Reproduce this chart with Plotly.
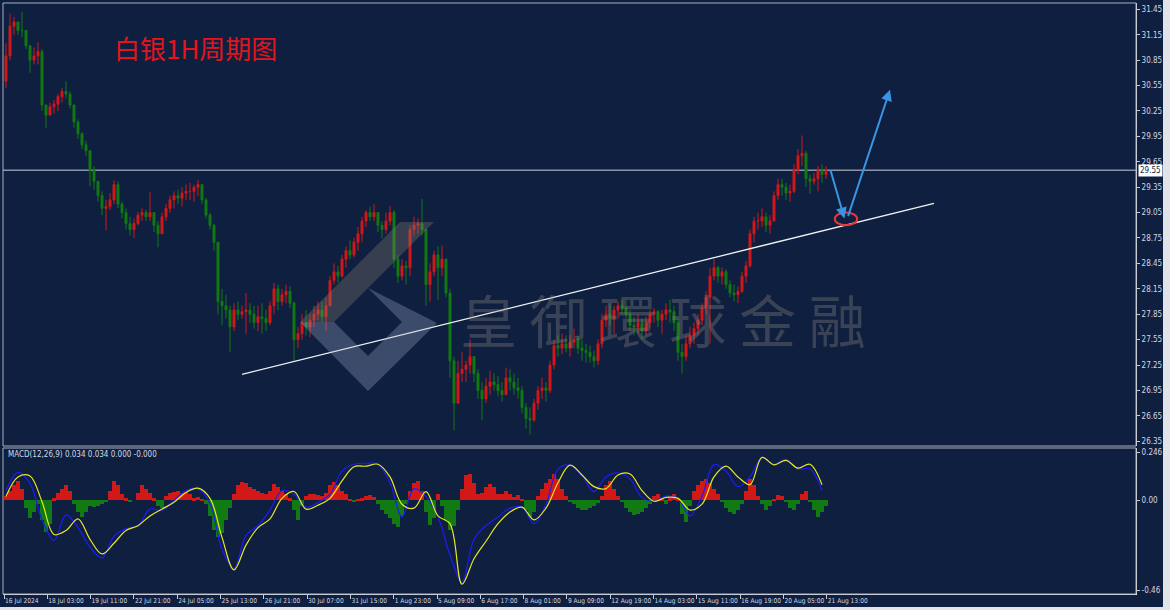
import plotly.graph_objects as go

# ---------------- data ----------------
FIRST_OPEN = 30.60
HIGH = [
    31.05, 31.40, 31.36, 31.30, 31.42, 31.18, 31.00, 31.00, 31.06, 30.98,
    30.30, 30.35, 30.38, 30.45, 30.52, 30.60, 30.48, 30.32, 30.15, 30.00,
    29.90, 29.75, 29.60, 29.40, 29.30, 29.20, 29.28, 29.43, 29.42, 29.18,
    29.10, 29.00, 28.98, 29.06, 29.10, 29.08, 29.29, 29.05, 28.95, 29.05,
    29.15, 29.25, 29.30, 29.32, 29.35, 29.38, 29.40, 29.38, 29.44, 29.38,
    29.22, 29.05, 28.92, 28.70, 28.15, 28.08, 27.95, 27.98, 28.00, 27.95,
    28.10, 27.98, 27.95, 27.95, 27.98, 27.90, 28.00, 28.22, 28.20, 28.15,
    28.20, 28.18, 28.00, 27.70, 27.85, 27.90, 27.85, 27.95, 28.00, 28.00,
    28.05, 28.30, 28.45, 28.42, 28.55, 28.65, 28.72, 28.75, 28.88, 29.00,
    29.08, 29.12, 29.15, 29.05, 28.95, 29.05, 29.13, 29.08, 28.55, 28.50,
    28.48, 28.90, 29.00, 28.98, 29.21, 28.85, 28.45, 28.60, 28.65, 28.66,
    28.50, 28.15, 27.35, 27.30, 27.40, 27.30, 27.55, 27.35, 27.20, 27.05,
    27.10, 27.18, 27.15, 27.12, 27.05, 27.22, 27.20, 27.15, 27.10, 27.00,
    26.80, 26.75, 26.85, 27.00, 27.10, 27.05, 27.30, 27.55, 27.60, 27.62,
    27.60, 27.60, 27.68, 27.60, 27.55, 27.50, 27.48, 27.42, 27.55, 27.85,
    27.95, 27.98, 27.95, 28.00, 28.02, 28.02, 27.90, 27.82, 27.85, 27.80,
    27.82, 27.90, 27.92, 27.90, 27.90, 27.98, 28.02, 27.95, 27.80, 27.50,
    27.60, 27.70, 27.75, 27.85, 27.98, 28.12, 28.40, 28.50, 28.42, 28.40,
    28.38, 28.25, 28.20, 28.18, 28.35, 28.48, 28.85, 29.00, 29.05, 29.10,
    29.05, 29.02, 29.30, 29.45, 29.45, 29.40, 29.38, 29.62, 29.80, 29.96,
    29.78, 29.50, 29.52, 29.60, 29.62, 29.60,
]
LOW = [
    30.52, 30.85, 31.15, 31.15, 31.12, 30.98, 30.70, 30.80, 30.80, 30.25,
    30.05, 30.20, 30.22, 30.25, 30.35, 30.40, 30.28, 30.05, 29.92, 29.80,
    29.72, 29.36, 29.32, 29.18, 29.02, 28.84, 29.08, 29.15, 29.10, 28.98,
    28.85, 28.78, 28.75, 28.90, 28.95, 28.95, 28.95, 28.82, 28.64, 28.82,
    28.95, 29.05, 29.10, 29.15, 29.12, 29.20, 29.20, 29.18, 29.25, 29.15,
    28.98, 28.85, 28.60, 27.85, 27.72, 27.80, 27.40, 27.65, 27.78, 27.80,
    27.62, 27.75, 27.68, 27.65, 27.62, 27.65, 27.72, 27.85, 27.90, 27.95,
    27.98, 27.92, 27.30, 27.45, 27.55, 27.60, 27.58, 27.70, 27.78, 27.75,
    27.65, 27.95, 28.20, 28.22, 28.28, 28.40, 28.50, 28.52, 28.60, 28.70,
    28.88, 28.95, 28.95, 28.82, 28.75, 28.80, 28.90, 28.40, 28.22, 28.25,
    28.20, 28.30, 28.78, 28.80, 28.78, 27.95, 28.00, 28.30, 28.02, 28.30,
    28.05, 27.10, 26.48, 26.85, 27.05, 27.05, 27.15, 27.05, 26.85, 26.60,
    26.80, 26.90, 26.95, 26.88, 26.82, 26.90, 26.95, 26.90, 26.85, 26.68,
    26.50, 26.43, 26.58, 26.72, 26.85, 26.82, 26.92, 27.20, 27.35, 27.38,
    27.40, 27.35, 27.45, 27.38, 27.30, 27.28, 27.28, 27.22, 27.25, 27.45,
    27.70, 27.72, 27.62, 27.80, 27.85, 27.80, 27.65, 27.60, 27.62, 27.55,
    27.60, 27.68, 27.75, 27.70, 27.62, 27.78, 27.75, 27.65, 27.30, 27.15,
    27.30, 27.45, 27.50, 27.60, 27.72, 27.85, 27.50, 28.25, 28.22, 28.20,
    28.15, 28.05, 28.00, 27.98, 28.10, 28.22, 28.40, 28.70, 28.85, 28.88,
    28.82, 28.80, 28.95, 29.20, 29.25, 29.20, 29.18, 29.28, 29.50, 29.60,
    29.35, 29.27, 29.38, 29.30, 29.40, 29.45,
]
CLOSE = [
    30.90, 31.25, 31.30, 31.20, 31.20, 31.02, 30.85, 30.90, 30.95, 30.32,
    30.20, 30.30, 30.33, 30.42, 30.48, 30.45, 30.32, 30.12, 29.98, 29.85,
    29.78, 29.55, 29.42, 29.25, 29.10, 29.12, 29.20, 29.38, 29.15, 29.05,
    28.92, 28.85, 28.92, 29.02, 29.05, 29.00, 29.05, 28.90, 28.80, 29.00,
    29.10, 29.20, 29.25, 29.22, 29.28, 29.30, 29.30, 29.35, 29.38, 29.20,
    29.02, 28.90, 28.70, 28.00, 27.95, 27.90, 27.70, 27.90, 27.85, 27.88,
    27.90, 27.85, 27.75, 27.82, 27.80, 27.75, 27.95, 28.15, 28.00, 28.08,
    28.12, 27.98, 27.55, 27.62, 27.75, 27.70, 27.78, 27.85, 27.90, 27.82,
    27.95, 28.25, 28.35, 28.30, 28.50, 28.60, 28.55, 28.70, 28.80, 28.95,
    29.05, 29.00, 29.05, 28.90, 28.85, 28.95, 29.05, 28.50, 28.30, 28.42,
    28.40, 28.85, 28.90, 28.92, 28.85, 28.20, 28.35, 28.55, 28.40, 28.50,
    28.10, 27.30, 26.80, 27.15, 27.20, 27.25, 27.35, 27.15, 26.95, 26.85,
    27.00, 27.05, 27.02, 26.95, 26.90, 27.10, 27.05, 26.98, 26.95, 26.75,
    26.62, 26.60, 26.80, 26.95, 26.98, 26.95, 27.25, 27.48, 27.45, 27.50,
    27.45, 27.52, 27.55, 27.45, 27.42, 27.40, 27.35, 27.30, 27.50, 27.78,
    27.85, 27.80, 27.90, 27.95, 27.92, 27.85, 27.72, 27.70, 27.75, 27.65,
    27.75, 27.85, 27.88, 27.78, 27.85, 27.90, 27.88, 27.75, 27.40, 27.35,
    27.50, 27.60, 27.68, 27.78, 27.92, 28.05, 28.30, 28.40, 28.30, 28.35,
    28.20, 28.10, 28.08, 28.12, 28.30, 28.42, 28.80, 28.95, 28.95, 29.00,
    28.90, 28.95, 29.25, 29.38, 29.35, 29.28, 29.30, 29.55, 29.72, 29.75,
    29.45, 29.42, 29.45, 29.55, 29.50, 29.55,
]

# MACD(12,26,9): main line (blue) and signal (yellow), sampled every 3 bars
MACD_STEP = 3
MACD_MAIN = [
    0.05, 0.143, 0.087, -0.10, -0.205, -0.075, -0.14, -0.24, -0.295, -0.185,
    -0.145, -0.13, -0.045, -0.052, 0.0, 0.05, 0.06, -0.015, -0.25, -0.35,
    -0.18, -0.13, -0.05, 0.05, 0.03, -0.035, -0.01, 0.03, 0.15, 0.185,
    0.19, 0.185, 0.09, -0.085, 0.06, 0.02, -0.085, -0.28, -0.42, -0.20,
    -0.13, -0.085, -0.04, -0.035, -0.12, -0.02, 0.16, 0.18, 0.125, 0.045,
    0.12, 0.14, 0.11, 0.015, -0.005, 0.022, 0.01, -0.08, 0.02, 0.183,
    0.15, 0.07, 0.12, 0.22, 0.185, 0.21, 0.16, 0.16, 0.05,
]
MACD_SIGNAL = [
    0.02, 0.12, 0.125, -0.007, -0.175, -0.155, -0.095, -0.20, -0.275, -0.22,
    -0.155, -0.13, -0.08, -0.045, -0.01, 0.04, 0.062, 0.01, -0.19, -0.357,
    -0.23, -0.14, -0.095, 0.01, 0.045, -0.045, -0.025, 0.01, 0.10, 0.172,
    0.175, 0.185, 0.12, -0.02, -0.04, 0.045, -0.08, -0.12, -0.43, -0.30,
    -0.21, -0.12, -0.06, -0.035, -0.10, -0.04, 0.09, 0.18, 0.13, 0.07,
    0.06, 0.13, 0.135, 0.05, -0.005, 0.015, 0.01, -0.05, -0.02, 0.12,
    0.175, 0.12, 0.08, 0.22, 0.182, 0.205, 0.165, 0.185, 0.08,
]
MACD_HIST = [
    0.02, 0.05, 0.08, 0.10, 0.06, -0.04, -0.09, -0.06, -0.02, -0.10,
    -0.16, -0.12, 0.01, 0.04, 0.06, 0.077, 0.05, -0.02, -0.06, -0.085,
    -0.06, -0.03, -0.034, -0.03, -0.02, -0.01, 0.05, 0.10, 0.08, 0.03,
    0.01, -0.01, 0.0, 0.04, 0.077, 0.06, 0.04, 0.01, -0.03, -0.04,
    0.02, 0.035, 0.045, 0.05, 0.04, 0.045, 0.03, 0.01, 0.015, 0.005,
    -0.02, -0.08, -0.15, -0.19, -0.17, -0.10, -0.04, 0.03, 0.08, 0.094,
    0.09, 0.07, 0.06, 0.05, 0.04, 0.03, 0.05, 0.085, 0.07, 0.05,
    0.03, 0.01, -0.05, -0.10, -0.03, 0.02, 0.03, 0.034, 0.025, 0.02,
    0.04, 0.08, 0.094, 0.08, 0.05, 0.03, 0.005, -0.01, 0.005, 0.01,
    0.02, 0.026, 0.015, -0.02, -0.05, -0.07, -0.09, -0.12, -0.137, -0.08,
    -0.02, 0.05, 0.09, 0.097, 0.05, -0.06, -0.128, -0.09, 0.03, -0.03,
    -0.10, -0.154, -0.13, -0.05, 0.06, 0.13, 0.137, 0.09, 0.03, 0.04,
    0.07, 0.085, 0.07, 0.03, 0.03, 0.05, 0.03, 0.015, 0.026, 0.005,
    -0.05, -0.085, -0.06, 0.02, 0.06, 0.09, 0.11, 0.137, 0.11, 0.06,
    0.02, -0.005, -0.02, -0.04, -0.05, -0.05, -0.04, -0.03, -0.015, 0.02,
    0.08, 0.10, 0.06, 0.02, -0.01, -0.04, -0.06, -0.077, -0.07, -0.06,
    -0.04, -0.02, 0.02, 0.034, 0.01, -0.017, 0.01, 0.034, 0.005, -0.07,
    -0.11, -0.03, 0.05, 0.08, 0.10, 0.11, 0.09, 0.06, 0.03, -0.01,
    -0.04, -0.06, -0.068, -0.05, -0.02, 0.05, 0.11, 0.08, 0.02, -0.02,
    -0.05, -0.03, 0.005, 0.026, 0.02, -0.005, -0.04, -0.05, -0.02, 0.03,
    0.05, -0.01, -0.05, -0.085, -0.06, -0.03,
]

X_LABELS = [
    "16 Jul 2024", "18 Jul 03:00", "19 Jul 11:00", "22 Jul 21:00", "24 Jul 05:00",
    "25 Jul 13:00", "26 Jul 21:00", "30 Jul 07:00", "31 Jul 15:00", "1 Aug 23:00",
    "5 Aug 09:00", "6 Aug 17:00", "8 Aug 01:00", "9 Aug 09:00", "12 Aug 19:00",
    "14 Aug 03:00", "15 Aug 11:00", "16 Aug 19:00", "20 Aug 05:00", "21 Aug 13:00",
]
BARS_PER_LABEL = 10.825  # drawn bars between two time labels
PRICE_TICKS = [26.35, 26.65, 26.95, 27.25, 27.55, 27.85, 28.15, 28.45, 28.75,
               29.05, 29.35, 29.65, 29.95, 30.25, 30.55, 30.85, 31.15, 31.45]
MACD_TICKS = [0.246, 0.0, -0.46]
MACD_TICK_TEXT = ["0.246", "0.00", "-0.46"]
LAST_PRICE = 29.55
MACD_TEXT = "MACD(12,26,9) 0.034 0.034 0.000 -0.000"
TITLE = "白银1H周期图"
WATERMARK = "皇 御 環 球 金 融"

# analyst drawings (bar index, price)
TREND_X = [59, 232]
TREND_Y = [27.14, 29.16]
ARROW_DOWN = dict(tail=(206, 29.57), tip=(209.6, 28.98))
ARROW_UP = dict(tail=(210.4, 28.99), tip=(221, 30.50))
TARGET_X = [207.2, 212.8]
TARGET_Y = [28.90, 29.05]

# ---------------- styling ----------------
BG = "#0f1f40"
UP = "#d31818"
DN = "#127a12"
TXT = "#d4d8e0"
FONT = "'Liberation Sans Narrow', 'DejaVu Sans Condensed', Arial, sans-serif"
W, H = 1170, 610
ML, MR, MT, MB = 3, 34, 3, 16
PW, PH = W - ML - MR, H - MT - MB


def px_x(px):
    return (px - ML) / PW


def px_y(py):
    return (H - MB - py) / PH


n = len(CLOSE)
xs = list(range(n))
opens = [FIRST_OPEN] + CLOSE[:-1]
highs = [max(h, o, c) for h, o, c in zip(HIGH, opens, CLOSE)]
lows = [min(l, o, c) for l, o, c in zip(LOW, opens, CLOSE)]

x_lo = (ML - 6) / 4
x_hi = (ML + PW - 6) / 4
price_dom = [px_y(446), 1.0]
macd_dom = [0.0, px_y(448)]
price_rng = [31.45 - (446 - 9.3) / 84.7, 31.45 + (9.3 - 3) / 84.7]
macd_rng = [(500.3 - 594) / 195, (500.3 - 448) / 195]

fig = go.Figure()
fig.add_trace(go.Candlestick(
    x=xs, open=opens, high=highs, low=lows, close=CLOSE,
    increasing=dict(line=dict(color=UP, width=1), fillcolor=UP),
    decreasing=dict(line=dict(color=DN, width=1), fillcolor=DN),
    whiskerwidth=0, hoverinfo="skip", showlegend=False, xaxis="x", yaxis="y"))
fig.add_trace(go.Scatter(x=TREND_X, y=TREND_Y, mode="lines",
                         line=dict(color="#f2f2f2", width=1.3),
                         hoverinfo="skip", xaxis="x", yaxis="y"))

fig.add_trace(go.Bar(x=xs, y=MACD_HIST, width=0.8,
                     marker=dict(color=[UP if v >= 0 else DN for v in MACD_HIST], line=dict(width=0)),
                     hoverinfo="skip", xaxis="x2", yaxis="y2"))
mx = [i * MACD_STEP for i in range(len(MACD_MAIN))]
fig.add_trace(go.Scatter(x=mx, y=MACD_MAIN, mode="lines",
                         line=dict(color="#1c1cff", width=1.2, shape="spline"),
                         hoverinfo="skip", xaxis="x2", yaxis="y2"))
fig.add_trace(go.Scatter(x=mx, y=MACD_SIGNAL, mode="lines",
                         line=dict(color="#e8e820", width=1.2, shape="spline"),
                         hoverinfo="skip", xaxis="x2", yaxis="y2"))

tick_pos = [i * BARS_PER_LABEL - 0.5 for i in range(len(X_LABELS))]
tickfont = dict(family=FONT, size=8, color=TXT)
xtickfont = dict(family=FONT, size=6.6, color=TXT)

fig.update_layout(
    width=W, height=H, margin=dict(l=ML, r=MR, t=MT, b=MB, autoexpand=False),
    paper_bgcolor=BG, plot_bgcolor=BG, showlegend=False, bargap=0,
    xaxis=dict(domain=[0, 1], range=[x_lo, x_hi], anchor="y", showticklabels=False,
               ticks="", showgrid=False, zeroline=False, showline=False, automargin=False,
               rangeslider=dict(visible=False)),
    xaxis2=dict(domain=[0, 1], range=[x_lo, x_hi], anchor="y2", tickvals=tick_pos,
                ticktext=X_LABELS, ticks="outside", ticklen=4, tickcolor="#c8ccd4",
                ticklabelposition="outside right", tickfont=xtickfont, tickangle=0,
                automargin=False, showgrid=False, zeroline=False, showline=True,
                linecolor="#e6e6e6"),
    yaxis=dict(domain=price_dom, range=price_rng, anchor="x", side="right",
               tickvals=PRICE_TICKS, ticktext=[f"{v:.2f}" for v in PRICE_TICKS],
               ticks="outside", ticklen=3, tickcolor="#c8ccd4", tickfont=tickfont,
               automargin=False, showgrid=False, zeroline=False, showline=True,
               linecolor="#e6e6e6"),
    yaxis2=dict(domain=macd_dom, range=macd_rng, anchor="x2", side="right",
                tickvals=MACD_TICKS, ticktext=MACD_TICK_TEXT,
                ticks="outside", ticklen=3, tickcolor="#c8ccd4", tickfont=tickfont,
                automargin=False, showgrid=False, zeroline=False, showline=True,
                linecolor="#e6e6e6"),
)

shapes = []
# pane frames
for dom in (price_dom, macd_dom):
    shapes.append(dict(type="rect", xref="paper", yref="paper", x0=0, x1=1,
                       y0=dom[0], y1=dom[1], line=dict(color="#aab0bc", width=1),
                       fillcolor="rgba(0,0,0,0)", layer="above"))
# right and bottom light strips of the terminal window
shapes.append(dict(type="rect", xref="paper", yref="paper", x0=px_x(1163), x1=px_x(1172),
                   y0=px_y(612), y1=px_y(-2), line=dict(width=0), fillcolor="#dfe3ea"))
shapes.append(dict(type="rect", xref="paper", yref="paper", x0=px_x(-2), x1=px_x(1172),
                   y0=px_y(612), y1=px_y(607), line=dict(width=0), fillcolor="#dfe3ea"))
# last price line
shapes.append(dict(type="line", xref="paper", yref="y", x0=0, x1=1, y0=LAST_PRICE, y1=LAST_PRICE,
                   line=dict(color="#8a94a8", width=1.5), layer="below"))
# target ellipse
shapes.append(dict(type="circle", xref="x", yref="y", x0=TARGET_X[0], x1=TARGET_X[1],
                   y0=TARGET_Y[0], y1=TARGET_Y[1], line=dict(color="#e8383c", width=2)))


def poly(points):
    return "M " + " L ".join(f"{px_x(a):.5f},{px_y(b):.5f}" for a, b in points) + " Z"


# watermark logo
shapes.append(dict(type="path", xref="paper", yref="paper",
                   path=poly([(300, 322), (400, 222), (434, 222), (334, 322)]),
                   fillcolor="rgba(150,135,120,0.30)", line=dict(width=0), layer="above"))
shapes.append(dict(type="path", xref="paper", yref="paper",
                   path=poly([(300, 322), (334, 322), (368, 356), (368, 391)]),
                   fillcolor="rgba(165,178,205,0.30)", line=dict(width=0), layer="above"))
shapes.append(dict(type="path", xref="paper", yref="paper",
                   path=poly([(368, 391), (368, 356), (402, 322), (368, 288), (437, 323)]),
                   fillcolor="rgba(165,178,205,0.30)", line=dict(width=0), layer="above"))
fig.update_layout(shapes=shapes)

ann = []
ann.append(dict(xref="paper", yref="paper", x=px_x(112), y=px_y(47), xanchor="left",
                yanchor="middle", text=TITLE, showarrow=False,
                font=dict(family="Noto Sans CJK SC", size=26, color="#e3141b")))
ann.append(dict(xref="paper", yref="paper", x=px_x(663), y=px_y(318), xanchor="center",
                yanchor="middle", text=WATERMARK, showarrow=False,
                font=dict(family="Noto Sans CJK TC", size=57, color="rgba(150,140,130,0.32)")))
ann.append(dict(xref="paper", yref="paper", x=px_x(6), y=px_y(454), xanchor="left",
                yanchor="middle", text=MACD_TEXT, showarrow=False,
                font=dict(family=FONT, size=8, color=TXT)))
ann.append(dict(xref="paper", yref="y", x=1.0, y=LAST_PRICE, xanchor="left", yanchor="middle",
                xshift=2, text=str(f"{LAST_PRICE:.2f}"), showarrow=False, bgcolor="#ffffff",
                borderpad=1, font=dict(family=FONT, size=8, color=BG)))
for arr in (ARROW_DOWN, ARROW_UP):
    ann.append(dict(xref="x", yref="y", axref="x", ayref="y",
                    x=arr["tip"][0], y=arr["tip"][1], ax=arr["tail"][0], ay=arr["tail"][1],
                    text="", showarrow=True, arrowhead=2, arrowsize=1.1, arrowwidth=2,
                    arrowcolor="#3a94e4"))
fig.update_layout(annotations=ann)

fig.write_html("out.html")
